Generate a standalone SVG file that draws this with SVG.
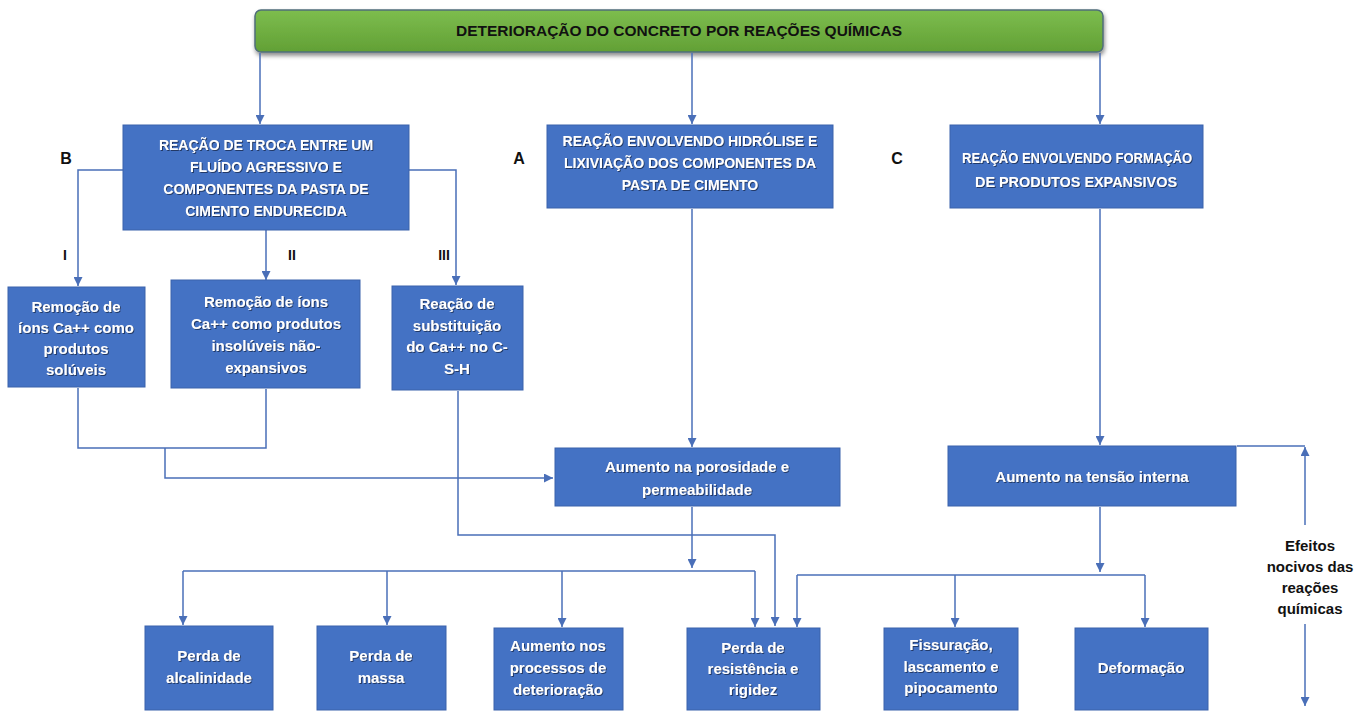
<svg xmlns="http://www.w3.org/2000/svg" width="1362" height="711" viewBox="0 0 1362 711">
<defs>
<linearGradient id="g" x1="0" y1="0" x2="0" y2="1">
<stop offset="0" stop-color="#7dbd4e"/>
<stop offset="1" stop-color="#62a035"/>
</linearGradient>
<filter id="sh" x="-5%" y="-20%" width="110%" height="150%">
<feDropShadow dx="1" dy="3" stdDeviation="2" flood-color="#000" flood-opacity="0.45"/>
</filter>
<filter id="ts" x="-10%" y="-30%" width="120%" height="160%">
<feDropShadow dx="1" dy="1" stdDeviation="0.6" flood-color="#1a2a50" flood-opacity="0.8"/>
</filter>
<marker id="ar" viewBox="0 0 10 10" refX="10" refY="5" markerWidth="9" markerHeight="9" markerUnits="userSpaceOnUse" orient="auto">
<path d="M0,0 L10,5 L0,10 z" fill="#4a6fb8"/>
</marker>
</defs>
<style>
.box{fill:#4472c4;stroke:#3a62ab;stroke-width:1}
.t{font-family:"Liberation Sans",Arial,sans-serif;font-weight:bold;fill:#fff;text-anchor:middle;filter:url(#ts)}
.c{font-size:14px}
.s{font-size:15px}
.lab{font-family:"Liberation Sans",Arial,sans-serif;font-weight:bold;fill:#111;text-anchor:middle}
.ln{fill:none;stroke:#4a6fb8;stroke-width:1.5}
.a{marker-end:url(#ar)}
</style>
<rect width="1362" height="711" fill="#fff"/>

<g id="title">
<rect x="255" y="10" width="848" height="42" rx="6" fill="url(#g)" stroke="#4f6e7a" stroke-width="1.5" filter="url(#sh)"/>
<text x="679" y="36" class="lab" font-size="15.5" textLength="446" lengthAdjust="spacingAndGlyphs">DETERIORAÇÃO DO CONCRETO POR REAÇÕES QUÍMICAS</text>
</g>

<g id="connectors">
<path class="ln a" d="M260,53 V124"/>
<path class="ln a" d="M692,53 V124"/>
<path class="ln a" d="M1100,53 V124"/>
<path class="ln a" d="M123,170 H78 V286"/>
<path class="ln a" d="M409,170 H456 V285"/>
<path class="ln a" d="M266,230 V280"/>
<path class="ln" d="M78,388 V448 H266 V389"/>
<path class="ln a" d="M165,448 V478 H553"/>
<path class="ln a" d="M458,391 V535 H775 V626"/>
<path class="ln a" d="M692,209 V447"/>
<path class="ln a" d="M692,507 V568"/>
<path class="ln" d="M183,571 H755"/>
<path class="ln a" d="M183,571 V625"/>
<path class="ln a" d="M387,571 V625"/>
<path class="ln a" d="M562,571 V627"/>
<path class="ln a" d="M755,571 V627"/>
<path class="ln a" d="M1100,209 V445"/>
<path class="ln a" d="M1100,507 V572"/>
<path class="ln" d="M797,575 H1145"/>
<path class="ln a" d="M797,575 V627"/>
<path class="ln a" d="M955,575 V627"/>
<path class="ln a" d="M1145,575 V627"/>
<path class="ln" d="M1237,446 H1305"/>
<path class="ln a" d="M1305,525 V447"/>
<path class="ln a" d="M1305,624 V706"/>
</g>

<g id="labels">
<text x="66" y="164" class="lab" font-size="16">B</text>
<text x="519" y="164" class="lab" font-size="16">A</text>
<text x="897" y="164" class="lab" font-size="16">C</text>
<text x="65" y="260" class="lab" font-size="14">I</text>
<text x="292" y="260" class="lab" font-size="14">II</text>
<text x="444" y="260" class="lab" font-size="14">III</text>
</g>

<g id="nodeB">
<rect class="box" x="123" y="125" width="286" height="105"/>
<text class="t c" x="266" y="150">REAÇÃO DE TROCA ENTRE UM</text>
<text class="t c" x="266" y="172">FLUÍDO AGRESSIVO E</text>
<text class="t c" x="266" y="194">COMPONENTES DA PASTA DE</text>
<text class="t c" x="266" y="216">CIMENTO ENDURECIDA</text>
</g>

<g id="nodeA">
<rect class="box" x="547" y="125" width="286" height="83"/>
<text class="t c" x="690" y="146">REAÇÃO ENVOLVENDO HIDRÓLISE E</text>
<text class="t c" x="690" y="168">LIXIVIAÇÃO DOS COMPONENTES DA</text>
<text class="t c" x="690" y="190">PASTA DE CIMENTO</text>
</g>

<g id="nodeC">
<rect class="box" x="950" y="125" width="253" height="83"/>
<text class="t c" x="1077" y="163" textLength="230" lengthAdjust="spacingAndGlyphs">REAÇÃO ENVOLVENDO FORMAÇÃO</text>
<text class="t c" x="1076" y="187" textLength="202" lengthAdjust="spacingAndGlyphs">DE PRODUTOS EXPANSIVOS</text>
</g>

<g id="nodeI">
<rect class="box" x="8" y="287" width="137" height="100"/>
<text class="t s" x="76" y="312">Remoção de</text>
<text class="t s" x="76" y="333">íons Ca++ como</text>
<text class="t s" x="76" y="354">produtos</text>
<text class="t s" x="76" y="375">solúveis</text>
</g>

<g id="nodeII">
<rect class="box" x="171" y="280" width="189" height="108"/>
<text class="t s" x="266" y="307">Remoção de íons</text>
<text class="t s" x="266" y="329">Ca++ como produtos</text>
<text class="t s" x="266" y="351">insolúveis não-</text>
<text class="t s" x="266" y="373">expansivos</text>
</g>

<g id="nodeIII">
<rect class="box" x="392" y="286" width="131" height="104"/>
<text class="t s" x="457" y="309">Reação de</text>
<text class="t s" x="457" y="331">substituição</text>
<text class="t s" x="457" y="352">do Ca++ no C-</text>
<text class="t s" x="457" y="374">S-H</text>
</g>

<g id="nodePorosidade">
<rect class="box" x="555" y="448" width="285" height="58"/>
<text class="t s" x="697" y="472">Aumento na porosidade e</text>
<text class="t s" x="697" y="495">permeabilidade</text>
</g>

<g id="nodeTensao">
<rect class="box" x="948" y="446" width="288" height="60"/>
<text class="t s" x="1092" y="482">Aumento na tensão interna</text>
</g>

<g id="nodeEfeitos">
<text x="1310" y="551" class="lab" font-size="15">Efeitos</text>
<text x="1310" y="572" class="lab" font-size="15">nocivos das</text>
<text x="1310" y="593" class="lab" font-size="15">reações</text>
<text x="1310" y="614" class="lab" font-size="15">químicas</text>
</g>

<g id="nodeAlcalinidade">
<rect class="box" x="145" y="626" width="128" height="84"/>
<text class="t s" x="209" y="661">Perda de</text>
<text class="t s" x="209" y="683">alcalinidade</text>
</g>

<g id="nodeMassa">
<rect class="box" x="317" y="626" width="129" height="84"/>
<text class="t s" x="381" y="661">Perda de</text>
<text class="t s" x="381" y="683">massa</text>
</g>

<g id="nodeProcessos">
<rect class="box" x="494" y="628" width="129" height="82"/>
<text class="t s" x="558" y="651">Aumento nos</text>
<text class="t s" x="558" y="673">processos de</text>
<text class="t s" x="558" y="695">deterioração</text>
</g>

<g id="nodeResistencia">
<rect class="box" x="687" y="628" width="133" height="82"/>
<text class="t s" x="753" y="653">Perda de</text>
<text class="t s" x="753" y="674">resistência e</text>
<text class="t s" x="753" y="695">rigidez</text>
</g>

<g id="nodeFissuracao">
<rect class="box" x="884" y="628" width="134" height="82"/>
<text class="t s" x="951" y="650">Fissuração,</text>
<text class="t s" x="951" y="672">lascamento e</text>
<text class="t s" x="951" y="693">pipocamento</text>
</g>

<g id="nodeDeformacao">
<rect class="box" x="1075" y="628" width="133" height="82"/>
<text class="t s" x="1141" y="673">Deformação</text>
</g>
</svg>
